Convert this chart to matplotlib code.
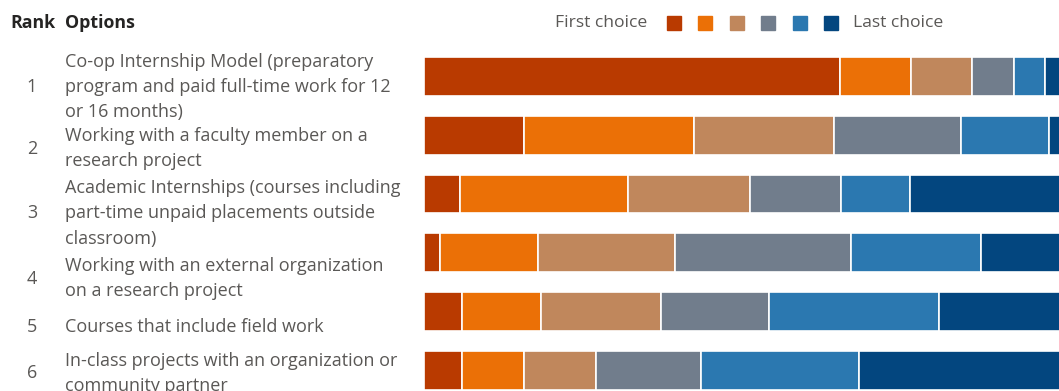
import matplotlib.pyplot as plt

plt.rcParams['font.family'] = ['Open Sans', 'DejaVu Sans']

ranks = ['1', '2', '3', '4', '5', '6']
options = [
    'Co-op Internship Model (preparatory\nprogram and paid full-time work for 12\nor 16 months)',
    'Working with a faculty member on a\nresearch project',
    'Academic Internships (courses including\npart-time unpaid placements outside\nclassroom)',
    'Working with an external organization\non a research project',
    'Courses that include field work',
    'In-class projects with an organization or\ncommunity partner',
]
# share of respondents (%) per rank choice, first -> last
first = [64.2, 15.4, 5.5, 2.4, 5.8, 5.8]
second = [11.0, 26.2, 26.0, 15.2, 12.2, 9.6]
third = [9.3, 21.6, 18.8, 21.1, 18.6, 11.1]
fourth = [6.5, 19.7, 14.1, 27.2, 16.7, 16.2]
fifth = [4.9, 13.5, 10.6, 20.1, 26.1, 24.5]
last = [4.2, 3.6, 25.1, 14.0, 20.5, 32.7]

colors = ['#B93A00', '#EB7006', '#C0875C', '#717D8C', '#2B78B0', '#03467F']

W, H = 1059, 391
fig = plt.figure(figsize=(W / 100, H / 100), dpi=100)
# plot area: bars start at x=424 px, first row centre at 76.5 px, pitch 58.8 px
ax = fig.add_axes([424 / W, 0, (W - 424) / W, (H - 47) / H])
ax.set_xlim(0, 100 * (W - 424) / 648)
ax.set_ylim(5 + (H - 370.5) / 58.8, -0.5)

y = range(len(ranks))
left = [0] * len(ranks)
for vals, col in zip([first, second, third, fourth, fifth, last], colors):
    ax.barh(y, vals, left=left, height=0.66, color=col, edgecolor='white', linewidth=1.2)
    left = [l + v for l, v in zip(left, vals)]
ax.axis('off')

# row labels (table-like column on the left)
txt = '#5A5856'
label_y = [87, 148.5, 213.5, 278.5, 327, 373.5]
for r, opt, yy in zip(ranks, options, label_y):
    fig.text(32 / W, 1 - yy / H, r, ha='center', va='center', fontsize=13, color=txt)
    fig.text(65 / W, 1 - yy / H, opt, ha='left', va='center', fontsize=13, color=txt,
             linespacing=1.52)

fig.text(10 / W, 1 - 23 / H, 'Rank', ha='left', va='center', fontsize=12.8, fontweight='bold', color='#252423')
fig.text(65 / W, 1 - 23 / H, 'Options', ha='left', va='center', fontsize=12.8, fontweight='bold', color='#252423')

# legend
fig.text(555 / W, 1 - 23 / H, 'First choice', ha='left', va='center', fontsize=12.6, color=txt)
sq_x = [667, 698, 730, 761, 793, 824]
for sx, col in zip(sq_x, colors):
    fig.patches.append(plt.Rectangle((sx / W, 1 - 30 / H), 14 / W, 14 / H, color=col,
                                     transform=fig.transFigure, figure=fig))
fig.text(853 / W, 1 - 23 / H, 'Last choice', ha='left', va='center', fontsize=12.6, color=txt)

fig.savefig('out.png', dpi=100)
